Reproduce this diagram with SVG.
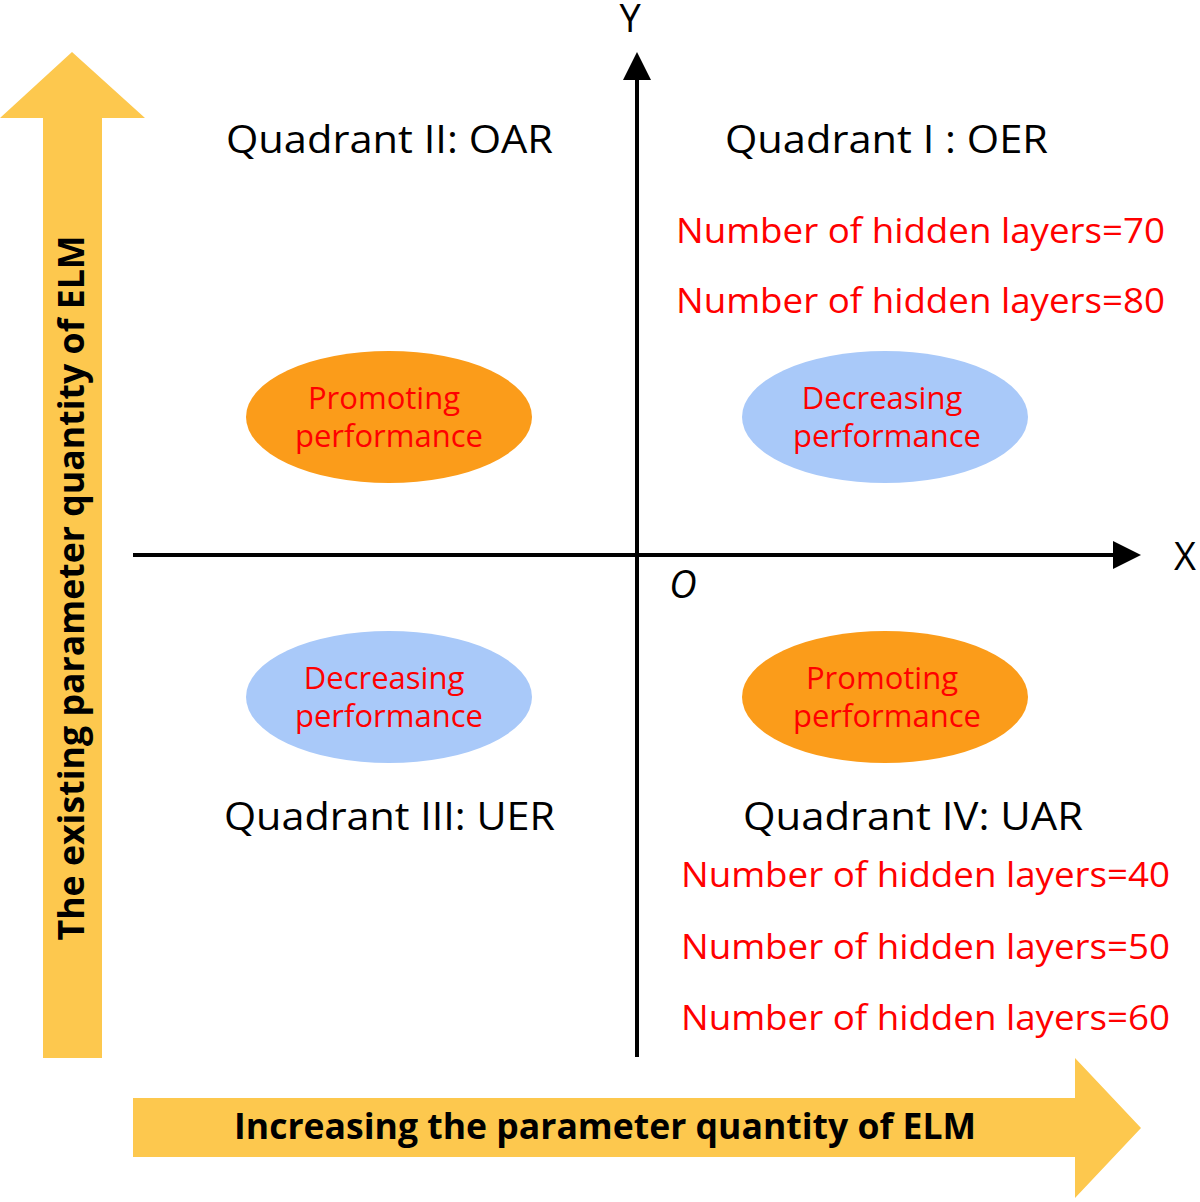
<svg xmlns="http://www.w3.org/2000/svg" width="1200" height="1202" viewBox="0 0 1200 1202">
<style>
text{font-family:"Open Sans","Noto Sans",sans-serif}
.q{font-size:38px;fill:#000}
.r{font-size:35px;fill:#ff0000}
.e{font-size:31px;fill:#ff0000;text-anchor:middle}
.b{font-size:35px;font-weight:bold;fill:#000;text-anchor:middle}
</style>
<rect width="1200" height="1202" fill="#fff"/>
<g id="bigarrows" fill="#fdc84e">
<polygon points="43,1058 102,1058 102,118 145,118 72,52 0,118 43,118"/>
<polygon points="133,1098 1075,1098 1075,1058 1141,1128 1075,1198 1075,1157 133,1157"/>
</g>
<g id="connectors" stroke="#000" stroke-width="4" fill="#000">
<line x1="637" y1="1057" x2="637" y2="80"/>
<polygon points="637,52 623,80 651,80" stroke="none"/>
<line x1="133" y1="555" x2="1115" y2="555"/>
<polygon points="1141,555 1113,541 1113,569" stroke="none"/>
</g>
<g id="labels">
<text x="630" y="32" class="q" text-anchor="middle">Y</text>
<text x="1185" y="570" class="q" text-anchor="middle">X</text>
<text x="683" y="598" class="q" font-style="italic" text-anchor="middle">O</text>
<text x="226" y="153" class="q" textLength="327" lengthAdjust="spacingAndGlyphs">Quadrant II: OAR</text>
<text x="725" y="153" class="q" textLength="323" lengthAdjust="spacingAndGlyphs">Quadrant I : OER</text>
<text x="224" y="830" class="q" textLength="331" lengthAdjust="spacingAndGlyphs">Quadrant III: UER</text>
<text x="743" y="830" class="q" textLength="340" lengthAdjust="spacingAndGlyphs">Quadrant IV: UAR</text>
<text x="676" y="243" class="r" textLength="489" lengthAdjust="spacingAndGlyphs">Number of hidden layers=70</text>
<text x="676" y="313" class="r" textLength="489" lengthAdjust="spacingAndGlyphs">Number of hidden layers=80</text>
<text x="681" y="887" class="r" textLength="489" lengthAdjust="spacingAndGlyphs">Number of hidden layers=40</text>
<text x="681" y="959" class="r" textLength="489" lengthAdjust="spacingAndGlyphs">Number of hidden layers=50</text>
<text x="681" y="1030" class="r" textLength="489" lengthAdjust="spacingAndGlyphs">Number of hidden layers=60</text>
<text transform="translate(84,588) rotate(-90)" class="b" textLength="705" lengthAdjust="spacingAndGlyphs">The existing parameter quantity of ELM</text>
<text x="605" y="1139" class="b" textLength="742" lengthAdjust="spacingAndGlyphs">Increasing the parameter quantity of ELM</text>
</g>
<g id="e1"><ellipse cx="389" cy="417" rx="143" ry="66" fill="#fb9c1a"/><text x="384" y="409" class="e">Promoting</text><text x="389" y="447" class="e">performance</text></g>
<g id="e2"><ellipse cx="885" cy="417" rx="143" ry="66" fill="#a9c9f9"/><text x="882" y="409" class="e">Decreasing</text><text x="887" y="447" class="e">performance</text></g>
<g id="e3"><ellipse cx="389" cy="697" rx="143" ry="66" fill="#a9c9f9"/><text x="384" y="689" class="e">Decreasing</text><text x="389" y="727" class="e">performance</text></g>
<g id="e4"><ellipse cx="885" cy="697" rx="143" ry="66" fill="#fb9c1a"/><text x="882" y="689" class="e">Promoting</text><text x="887" y="727" class="e">performance</text></g>
</svg>
